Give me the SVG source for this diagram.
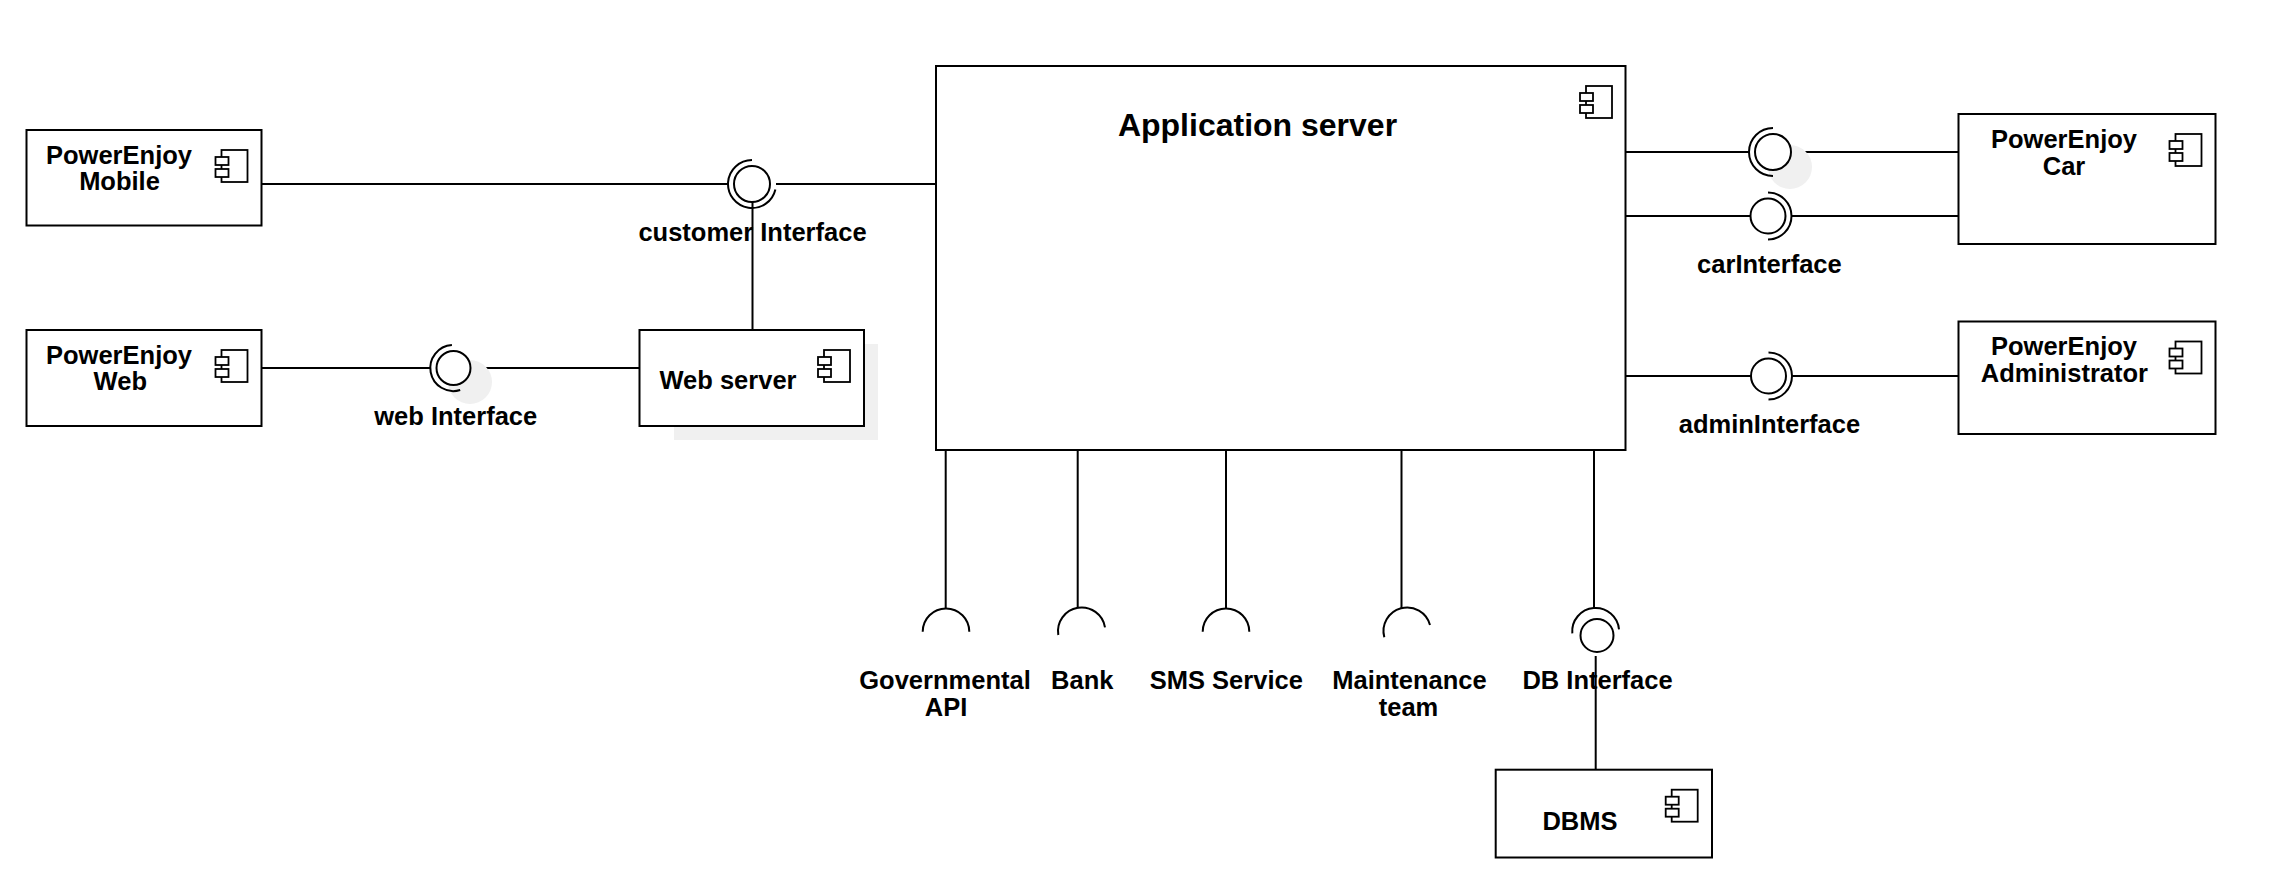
<svg xmlns="http://www.w3.org/2000/svg" width="2290" height="892" viewBox="0 0 2290 892">
<style>
.box{fill:#fff;stroke:#000;stroke-width:2}
.ln{fill:none;stroke:#000;stroke-width:2}
.ifc{fill:#fff;stroke:#000;stroke-width:2}
.arc{fill:none;stroke:#000;stroke-width:2}
.shadow{fill:#f0f0f0;stroke:none}
.ic{fill:#fff;stroke:#000;stroke-width:1.8}
text{font-family:"Liberation Sans",Arial,Helvetica,sans-serif;font-weight:bold;font-size:25.5px;fill:#000;text-anchor:middle}
.title{font-size:32px}
</style>
<defs>
<g id="icon">
<rect class="ic" x="6" y="0" width="26" height="32"/>
<rect class="ic" x="0" y="7" width="13" height="8"/>
<rect class="ic" x="0" y="19" width="13" height="8"/>
</g>
</defs>
<rect width="2290" height="892" fill="#fff"/>

<g id="connectors">
<path class="ln" d="M261.5 184H728M776 184H936"/>
<path class="ln" d="M752.5 202V330"/>
<path class="ln" d="M261.5 368H430.5M476 368H639.5"/>
<path class="ln" d="M1625.5 152H1749M1797 152H1958.5"/>
<path class="ln" d="M1625.5 216H1750.5M1791 216H1958.5"/>
<path class="ln" d="M1625.5 376H1751M1792 376H1958.5"/>
<path class="ln" d="M945.7 450V608.3M1077.7 450V608.3M1226 450V608.3M1401.5 450V608.3M1594 450V608.3"/>
<path class="ln" d="M1595.7 656V769.5"/>
</g>

<g id="customerInterface">
<circle class="ifc" cx="752" cy="184" r="18"/>
<path class="arc" d="M752 160A24 24 0 1 0 775.4 189.4"/>
<text x="752.5" y="240.7">customer Interface</text>
</g>

<g id="webInterface">
<circle class="shadow" cx="470" cy="382" r="22"/>
<circle class="ifc" cx="453.5" cy="368" r="17"/>
<path class="arc" d="M451.9 345.1A23 23 0 1 0 460.2 390"/>
<text x="455.7" y="425">web Interface</text>
</g>

<g id="carInterface">
<circle class="shadow" cx="1790" cy="167" r="22"/>
<circle class="ifc" cx="1773" cy="152" r="18"/>
<path class="arc" d="M1773 128A24 24 0 0 0 1773 176"/>
<circle class="ifc" cx="1768" cy="216" r="17.5"/>
<path class="arc" d="M1768 192.5A23.5 23.5 0 0 1 1768 239.5"/>
<text x="1769.4" y="273">carInterface</text>
</g>

<g id="adminInterface">
<circle class="ifc" cx="1768.5" cy="376" r="17.5"/>
<path class="arc" d="M1768.5 352.5A23.5 23.5 0 0 1 1768.5 399.5"/>
<text x="1769.4" y="433.3">adminInterface</text>
</g>

<g id="governmentalAPI">
<path class="arc" d="M922.7 631.7A23.3 23.3 0 0 1 969.3 631.7"/>
<text x="945" y="689">Governmental</text>
<text x="946" y="716">API</text>
</g>

<g id="bank">
<path class="arc" d="M1058.3 635A23.6 23.6 0 0 1 1105 627.3"/>
<text x="1082.3" y="689">Bank</text>
</g>

<g id="smsService">
<path class="arc" d="M1202.7 631.7A23.3 23.3 0 0 1 1249.3 631.7"/>
<text x="1226.3" y="689">SMS Service</text>
</g>

<g id="maintenanceTeam">
<path class="arc" d="M1384.3 637.3A23.6 23.6 0 0 1 1430 625"/>
<text x="1409.5" y="689">Maintenance</text>
<text x="1408.5" y="716">team</text>
</g>

<g id="dbInterface">
<circle class="ifc" cx="1597" cy="635.5" r="16.5"/>
<path class="arc" d="M1572.3 633.3A23.4 23.4 0 0 1 1619 629.3"/>
<text x="1597.5" y="689">DB Interface</text>
</g>

<g id="powerEnjoyMobile">
<rect class="box" x="26.5" y="130" width="235" height="95.5"/>
<text x="119" y="163.5">PowerEnjoy</text>
<text x="119.5" y="190">Mobile</text>
<use href="#icon" x="215.5" y="150"/>
</g>

<g id="powerEnjoyWeb">
<rect class="box" x="26.5" y="330" width="235" height="96"/>
<text x="119" y="363.5">PowerEnjoy</text>
<text x="120.3" y="390">Web</text>
<use href="#icon" x="215.5" y="350"/>
</g>

<g id="webServer">
<rect class="shadow" x="674" y="344" width="204" height="96"/>
<rect class="box" x="639.5" y="330" width="224.5" height="96"/>
<text x="728" y="389.3">Web server</text>
<use href="#icon" x="818" y="350"/>
</g>

<g id="applicationServer">
<rect class="box" x="936" y="66" width="689.5" height="384"/>
<text class="title" x="1257.5" y="136">Application server</text>
<use href="#icon" x="1580" y="86"/>
</g>

<g id="powerEnjoyCar">
<rect class="box" x="1958.5" y="114" width="257" height="130"/>
<text x="2064" y="148">PowerEnjoy</text>
<text x="2064" y="174.5">Car</text>
<use href="#icon" x="2169.5" y="134"/>
</g>

<g id="powerEnjoyAdministrator">
<rect class="box" x="1958.5" y="321.5" width="257" height="112.5"/>
<text x="2064" y="355">PowerEnjoy</text>
<text x="2064.4" y="381.7">Administrator</text>
<use href="#icon" x="2169.5" y="341.5"/>
</g>

<g id="dbms">
<rect class="box" x="1495.7" y="769.7" width="216.3" height="87.8"/>
<text x="1580" y="830">DBMS</text>
<use href="#icon" x="1665.7" y="789.7"/>
</g>
</svg>
